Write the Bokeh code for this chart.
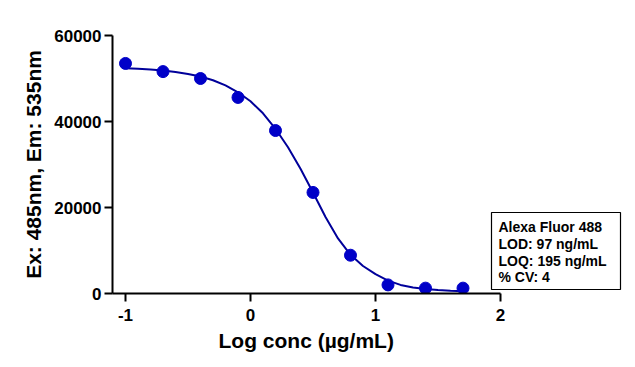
from bokeh.plotting import figure
from bokeh.models import Range1d, FixedTicker, BoxAnnotation, Label, Title
from bokeh.embed import file_html
from bokeh.resources import INLINE

# Measured data points (log conc in ug/mL, fluorescence)
log_conc = [-1.0, -0.7, -0.4, -0.1, 0.2, 0.5, 0.8, 1.1, 1.4, 1.7]
signal = [53500, 51600, 50000, 45600, 37900, 23500, 8900, 2000, 1250, 1250]

# Fitted curve
curve_x = [-1.0, -0.9, -0.8, -0.7, -0.6, -0.5, -0.4, -0.3, -0.2, -0.1,
           0.0, 0.1, 0.2, 0.3, 0.4, 0.5, 0.6, 0.7, 0.8, 0.9,
           1.0, 1.1, 1.2, 1.3, 1.4, 1.5, 1.6, 1.7]
curve_y = [52400, 52280, 52100, 51850, 51500, 51050, 50450, 49600, 48400, 46800,
           44700, 41900, 38300, 34000, 29000, 23500, 17800, 12800, 9000, 6400,
           4500, 3000, 2000, 1400, 1050, 800, 650, 550]

x_ticks = [-1, 0, 1, 2]
x_tick_labels = {-1: "-1", 0: "0", 1: "1", 2: "2"}
y_ticks = [0, 20000, 40000, 60000]
legend_lines = ["Alexa Fluor 488", "LOD: 97 ng/mL", "LOQ: 195 ng/mL", "% CV: 4"]
x_title = "Log conc (µg/mL)"
y_title = "Ex: 485nm, Em: 535nm"

FONT = "Liberation Sans"
X_START, X_AXIS_END = -1.104, 2

p = figure(frame_width=510, frame_height=258,
           x_range=Range1d(X_START, 2.976), y_range=Range1d(0, 60000),
           output_backend="svg", toolbar_location=None,
           min_border_left=112, min_border_top=35, min_border_bottom=0,
           min_border_right=0)
p.outline_line_color = None
p.grid.visible = False
p.background_fill_color = "white"
p.border_fill_color = "white"

p.line(curve_x, curve_y, line_color="#00009A", line_width=2)
p.scatter(log_conc, signal, size=12, fill_color="#0000C8", line_color="#0000C8")

for ax in (p.xaxis[0], p.yaxis[0]):
    ax.axis_line_width = 2
    ax.axis_line_color = "black"
    ax.major_tick_line_width = 2
    ax.major_tick_line_color = "black"
    ax.major_tick_out = 8
    ax.major_tick_in = 0
    ax.minor_tick_line_color = None
    ax.major_label_text_font = FONT
    ax.major_label_text_font_style = "bold"
    ax.major_label_text_font_size = "17px"
    ax.major_label_text_color = "black"
    ax.axis_label_text_font = FONT
    ax.axis_label_text_font_style = "bold"
    ax.axis_label_text_color = "black"

p.yaxis.axis_label_text_font_size = "21px"
p.xaxis.ticker = FixedTicker(ticks=x_ticks)
p.xaxis.major_label_overrides = x_tick_labels
p.yaxis.ticker = FixedTicker(ticks=y_ticks)
p.xaxis.bounds = (X_START, X_AXIS_END)
p.yaxis.axis_label = y_title
p.xaxis.major_label_standoff = 7
p.yaxis.major_label_standoff = 3
p.yaxis.axis_label_standoff = 6

# x-axis title centred under the drawn axis line (not the whole frame)
p.add_layout(Title(text=x_title, align="left", offset=106, standoff=6,
                   text_font=FONT, text_font_style="bold",
                   text_font_size="21px", text_color="black"), "below")

box = BoxAnnotation(left=1.928, right=2.96, bottom=930, top=18837,
                    fill_color="white", fill_alpha=1.0,
                    line_color="black", line_alpha=1.0, line_width=1.2,
                    level="overlay")
p.add_layout(box)

label_y = [15349, 11512, 7674, 3721]
for txt, yy in zip(legend_lines, label_y):
    p.add_layout(Label(x=1.984, y=yy, text=txt, text_font=FONT,
                       text_font_style="bold", text_font_size="14px",
                       text_baseline="middle", text_color="black",
                       level="overlay"))

open("out.html", "w").write(file_html(p, INLINE))
